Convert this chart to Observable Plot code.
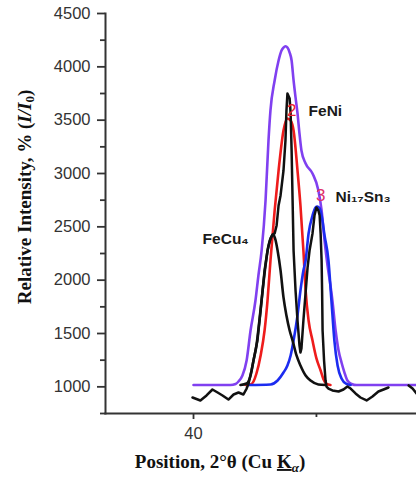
<!DOCTYPE html>
<html><head><meta charset="utf-8">
<script src="https://cdn.jsdelivr.net/npm/d3@7"></script>
<script src="https://cdn.jsdelivr.net/npm/@observablehq/plot@0.6"></script>
<style>html,body{margin:0;padding:0;background:#fff;}</style>
</head><body><div id="chart"></div>
<script>
// Tick values
const yMajorTicks = [1000, 1500, 2000, 2500, 3000, 3500, 4000, 4500];
const yMinorTicks = [750, 1250, 1750, 2250, 2750, 3250, 3750, 4250];
const xMajorTicks = [40];
const xMinorTicks = [45];

// Experimental pattern (black, noisy)
const expX = [39.96,40.28,40.53,40.77,40.98,41.18,41.42,41.63,41.83,42.03,42.16,42.24,42.36,42.48,42.60,42.73,42.81,42.89,43.01,43.13,43.21,43.30,43.38,43.46,43.54,43.66,43.74,43.78,43.82,43.91,43.95,43.99,44.03,44.07,44.15,44.23,44.31,44.35,44.39,44.47,44.64,44.72,44.84,44.92,45.00,45.08,45.13,45.17,45.21,45.23,45.25,45.31,45.37,45.41,45.49,45.65,45.90,46.10,46.26,46.39,46.59,46.79,47.04,47.28,47.52,47.73,47.93,48.30,48.75,48.91,49.07];
const expY = [900,872,919,975,947,919,881,928,947,928,984,1031,1153,1294,1434,1716,1903,2091,2278,2391,2428,2438,2513,2700,2794,3028,3309,3591,3750,3703,3563,3216,2747,2278,1903,1622,1388,1322,1360,1622,2119,2278,2438,2606,2681,2653,2606,2438,2184,1903,1528,1247,1059,1003,984,966,956,975,1003,984,938,900,872,909,956,975,994,null,1013,984,938];

// Fitted FeCu4 component (black)
const feCuX = [41.91,42.16,42.32,42.44,42.56,42.68,42.81,42.93,43.05,43.17,43.25,43.34,43.42,43.54,43.66,43.78,43.91,44.03,44.19,44.35,44.56,44.76,45.08,45.37];
const feCuY = [1017,1031,1106,1247,1388,1622,1903,2138,2325,2409,2428,2372,2278,2091,1838,1669,1528,1434,1294,1200,1106,1059,1022,1017];

// Fitted FeNi component (red)
const feNiX = [42.12,42.32,42.44,42.56,42.73,42.89,43.01,43.13,43.30,43.46,43.66,43.82,43.95,44.07,44.23,44.35,44.47,44.56,44.68,44.84,45.00,45.17,45.29,45.41,45.57];
const feNiY = [1017,1022,1050,1125,1294,1528,1809,2184,2653,3028,3403,3516,3497,3403,3028,2700,2278,1903,1622,1434,1266,1153,1069,1027,1017];

// Fitted Ni17Sn3 component (blue)
const niSnX = [42.24,43.13,43.42,43.66,43.82,43.95,44.07,44.23,44.35,44.47,44.56,44.68,44.84,44.96,45.04,45.13,45.21,45.33,45.49,45.61,45.73,45.86,46.02,46.22,46.39];
const niSnY = [1017,1022,1059,1134,1200,1294,1434,1669,1903,2091,2184,2438,2606,2681,2691,2672,2606,2419,2184,1809,1434,1200,1078,1027,1017];

// Envelope / cumulative fit (purple)
const sumX = [40.00,41.50,41.71,41.83,41.99,42.16,42.32,42.52,42.64,42.77,42.93,43.05,43.13,43.30,43.46,43.58,43.66,43.74,43.82,43.91,43.99,44.07,44.15,44.23,44.31,44.39,44.56,44.84,45.08,45.21,45.33,45.45,45.57,45.65,45.78,45.90,46.02,46.14,46.26,46.43,46.63,49.07];
const sumY = [1017,1017,1027,1050,1106,1247,1528,1809,2044,2278,2747,3309,3591,3872,4059,4153,4181,4193,4181,4134,4059,3872,3713,3563,3375,3216,3094,3000,2841,2653,2372,2138,1950,1809,1528,1341,1228,1134,1059,1027,1017,1017];

// Phase labels and peak markers
const labelText = ["FeNi", "Ni\u2081\u2087Sn\u2083", "FeCu\u2084"];
const labelX = [44.68, 45.78, 40.37];
const labelY = [3581, 2784, 2381];
const markText = ["2", "3"];
const markX = [44.00, 45.17];
const markY = [3591, 2794];
const markColor = ["#ee2233", "#e0306a"];

const zip = (xs, ys) => xs.map((x, i) => ({x, y: ys[i]}));
const labels = labelText.map((t, i) => ({t, x: labelX[i], y: labelY[i]}));
const marks = markText.map((t, i) => ({t, x: markX[i], y: markY[i], c: markColor[i]}));

const axisColor = "#333";
const lineOpts = {x: "x", y: "y", strokeWidth: 2.6, curve: "monotone-x"};

const chart = Plot.plot({
  width: 416,
  height: 479,
  marginLeft: 105,
  marginRight: 0,
  marginTop: 13,
  marginBottom: 66,
  style: {fontFamily: "'Liberation Sans', Arial, sans-serif", background: "#fff"},
  x: {domain: [36.42, 49.07]},
  y: {domain: [750, 4500]},
  marks: [
    Plot.line(zip(sumX, sumY), {...lineOpts, stroke: "#8040f0"}),
    Plot.line(zip(feNiX, feNiY), {...lineOpts, stroke: "#ee1c1c"}),
    Plot.line(zip(niSnX, niSnY), {...lineOpts, stroke: "#1c2cf0"}),
    Plot.line(zip(feCuX, feCuY), {...lineOpts, stroke: "#111"}),
    Plot.line(zip(expX, expY), {x: "x", y: "y", stroke: "#111", strokeWidth: 2.5, curve: "linear"}),
    Plot.text(marks, {x: "x", y: "y", text: "t", fill: "c", fontSize: 17, textAnchor: "middle", lineAnchor: "middle"}),
    Plot.text(labels, {x: "x", y: "y", text: "t", fill: "#1a1a1a", fontSize: 15.5, fontWeight: "bold", textAnchor: "start", lineAnchor: "middle"}),
    Plot.axisY({ticks: yMajorTicks, tickSize: 8, tickPadding: 7, fontSize: 16.5, label: null, tickFormat: d => String(d), color: axisColor, strokeWidth: 1.8}),
    Plot.axisY({ticks: yMinorTicks, tickSize: 5, text: null, label: null, color: axisColor, strokeWidth: 1.8}),
    Plot.axisX({ticks: xMajorTicks, tickSize: 6, tickPadding: 8, fontSize: 16.5, label: null, tickFormat: d => String(d), color: axisColor, strokeWidth: 1.8}),
    Plot.axisX({ticks: xMinorTicks, tickSize: 4, text: null, label: null, color: axisColor, strokeWidth: 1.8}),
    Plot.frame({anchor: "left", stroke: axisColor, strokeWidth: 2}),
    Plot.frame({anchor: "bottom", stroke: axisColor, strokeWidth: 2})
  ]
});

const svg = d3.select(chart);
// Y axis title
const yt = svg.append("text")
  .attr("transform", "translate(31,197) rotate(-90)")
  .attr("text-anchor", "middle")
  .style("font-family", "'Liberation Serif', 'Times New Roman', serif")
  .style("font-weight", "bold")
  .style("font-size", "19px")
  .attr("fill", "#111");
yt.append("tspan").text("Relative Intensity, % (");
yt.append("tspan").style("font-style", "italic").text("I/I");
yt.append("tspan").attr("dy", "3").style("font-size", "13px").text("0");
yt.append("tspan").attr("dy", "-3").text(")");

// X axis title
const xt = svg.append("text")
  .attr("x", 220).attr("y", 468)
  .style("font-family", "'Liberation Serif', 'Times New Roman', serif")
  .style("font-weight", "bold")
  .style("font-size", "19px")
  .attr("fill", "#111");
xt.append("tspan").text("Position, 2°θ (Cu ");
xt.append("tspan").style("text-decoration", "underline").text("K");
xt.append("tspan").attr("dy", "4").style("font-size", "13px").style("font-style", "italic").text("α");
xt.append("tspan").attr("dy", "-4").text(")");

document.getElementById("chart").appendChild(chart);
</script>
</body></html>
